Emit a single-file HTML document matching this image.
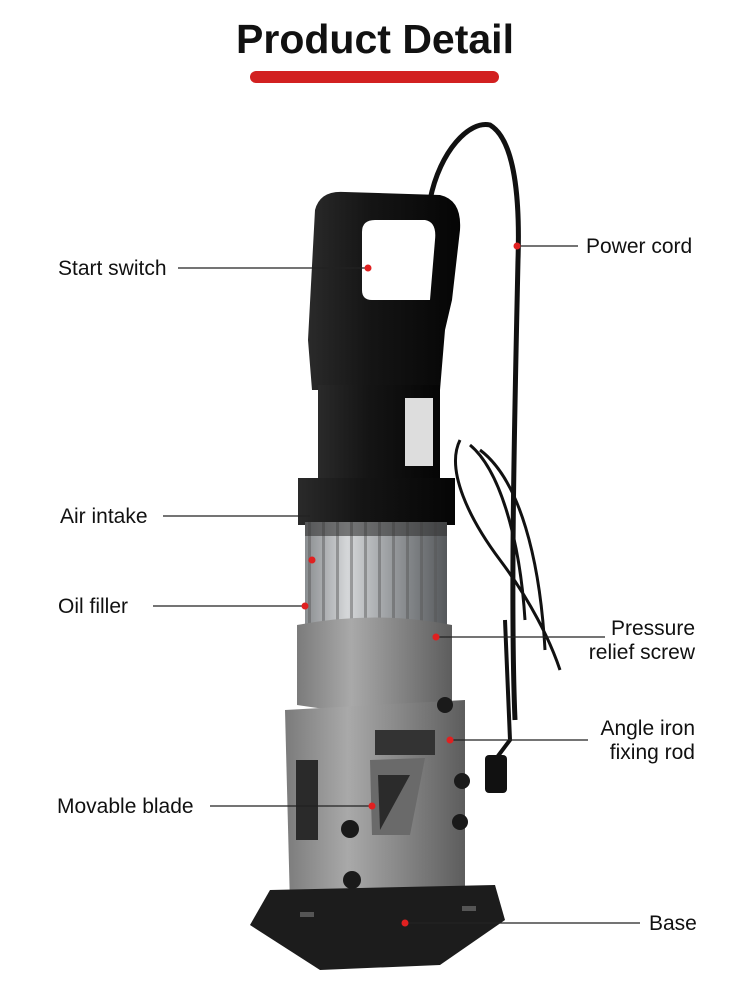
<!DOCTYPE html>
<html><head><meta charset="utf-8"><style>
html,body{margin:0;padding:0;background:#fff;width:750px;height:996px;overflow:hidden}
svg{display:block}
text{font-family:"Liberation Sans",sans-serif;fill:#111}
.l{font-size:21px}
</style></head><body>
<svg width="750" height="996" viewBox="0 0 750 996">
<defs>
<linearGradient id="blk" x1="0" x2="1"><stop offset="0" stop-color="#2a2a2a"/><stop offset=".4" stop-color="#151515"/><stop offset="1" stop-color="#050505"/></linearGradient>
<linearGradient id="fin" x1="0" x2="1"><stop offset="0" stop-color="#8a8d90"/><stop offset=".3" stop-color="#d5d7d9"/><stop offset=".6" stop-color="#9a9da0"/><stop offset="1" stop-color="#55585b"/></linearGradient>
<linearGradient id="gry" x1="0" x2="1"><stop offset="0" stop-color="#7b7b7b"/><stop offset=".35" stop-color="#a9a9a9"/><stop offset="1" stop-color="#5d5d5d"/></linearGradient>
<pattern id="fins" width="14" height="10" patternUnits="userSpaceOnUse"><rect x="0" width="3" height="10" fill="#555" opacity=".45"/></pattern>
</defs>
<text x="375" y="53" text-anchor="middle" font-size="41" font-weight="bold">Product Detail</text>
<rect x="250" y="71" width="249" height="12" rx="6" fill="#d22020"/>

<path d="M430 200 C440 150 470 120 490 125 C515 140 520 200 518 260 C515 400 510 600 515 720" fill="none" stroke="#111" stroke-width="5"/>
<path d="M460 440 C445 470 470 520 500 560 C530 600 550 640 560 670 M470 445 C500 470 520 540 525 620 M480 450 C520 480 540 560 545 650" fill="none" stroke="#111" stroke-width="3"/>
<path d="M505 620 L510 740 L495 760" fill="none" stroke="#111" stroke-width="4"/>
<rect x="485" y="755" width="22" height="38" rx="4" fill="#111"/>

<path d="M315 210 Q320 190 345 192 L440 195 Q462 200 460 230 L452 300 L445 330 L440 390 L312 390 L308 340 Z" fill="url(#blk)"/>
<path d="M362 232 Q362 220 375 220 L425 220 Q437 222 435 240 L430 300 L372 300 Q362 300 362 290 Z" fill="#fff"/>
<rect x="318" y="385" width="122" height="100" fill="url(#blk)"/>
<rect x="405" y="398" width="28" height="68" fill="#ddd"/>
<path d="M298 478 L455 478 L455 525 L298 525 Z" fill="url(#blk)"/>
<rect x="305" y="522" width="142" height="112" fill="url(#fin)"/>
<rect x="305" y="522" width="142" height="112" fill="url(#fins)"/>
<rect x="305" y="522" width="142" height="14" fill="#333" opacity=".6"/>
<path d="M297 625 Q375 610 452 625 L452 705 Q375 718 297 705 Z" fill="url(#gry)"/>
<path d="M285 710 L465 700 L465 900 L290 905 Z" fill="url(#gry)"/>
<rect x="296" y="760" width="22" height="80" fill="#2a2a2a"/>
<path d="M370 760 L425 758 L410 835 L372 835 Z" fill="#6a6a6a"/>
<path d="M378 775 L410 775 L380 830 Z" fill="#2b2b2b"/>
<rect x="375" y="730" width="60" height="25" fill="#333"/>
<g fill="#1a1a1a"><circle cx="350" cy="829" r="9"/><circle cx="352" cy="880" r="9"/><circle cx="462" cy="781" r="8"/><circle cx="460" cy="822" r="8"/><circle cx="445" cy="705" r="8"/></g>
<path d="M270 890 L495 885 L505 920 L440 965 L320 970 L250 925 Z" fill="#1c1c1c"/>
<rect x="300" y="912" width="14" height="5" fill="#555"/><rect x="462" y="906" width="14" height="5" fill="#555"/>

<g stroke="#222" stroke-width="1.2">
<line x1="178" y1="268" x2="368" y2="268"/>
<line x1="517" y1="246" x2="578" y2="246"/>
<line x1="163" y1="516" x2="310" y2="516"/>
<line x1="153" y1="606" x2="305" y2="606"/>
<line x1="436" y1="637" x2="605" y2="637"/>
<line x1="450" y1="740" x2="588" y2="740"/>
<line x1="210" y1="806" x2="372" y2="806"/>
<line x1="405" y1="923" x2="640" y2="923"/>
</g>
<g fill="#e02020">
<circle cx="368" cy="268" r="3.5"/><circle cx="517" cy="246" r="3.5"/><circle cx="312" cy="560" r="3.5"/><circle cx="305" cy="606" r="3.5"/>
<circle cx="436" cy="637" r="3.5"/><circle cx="450" cy="740" r="3.5"/><circle cx="372" cy="806" r="3.5"/><circle cx="405" cy="923" r="3.5"/>
</g>

<text class="l" x="58" y="275">Start switch</text>
<text class="l" x="586" y="253">Power cord</text>
<text class="l" x="60" y="523">Air intake</text>
<text class="l" x="58" y="613">Oil filler</text>
<text class="l" x="695" y="635" text-anchor="end">Pressure</text>
<text class="l" x="695" y="659" text-anchor="end">relief screw</text>
<text class="l" x="695" y="735" text-anchor="end">Angle iron</text>
<text class="l" x="695" y="759" text-anchor="end">fixing rod</text>
<text class="l" x="57" y="813">Movable blade</text>
<text class="l" x="649" y="930">Base</text>
</svg>
</body></html>
